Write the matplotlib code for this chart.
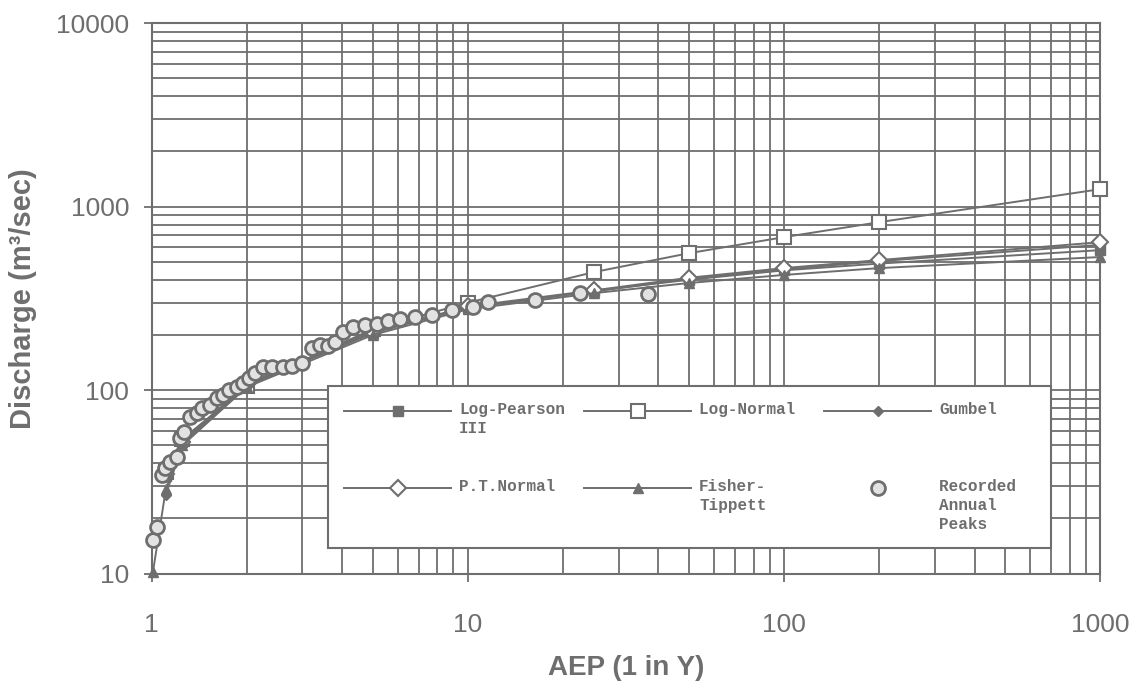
import matplotlib
matplotlib.use('Agg')
import matplotlib.pyplot as plt
import numpy as np
from matplotlib.ticker import FuncFormatter, LogLocator, NullFormatter

GRAY = '#6e6e6e'

# fitted frequency curves (AEP 1 in Y vs discharge m3/s)
aep = [1.11, 1.25, 2, 5, 10, 25, 50, 100, 200, 1000]
log_pearson = [34, 52, 106, 205, 282, 348, 400, 450, 490, 580]
log_normal = [36, 54, 105, 215, 300, 440, 558, 683, 824, 1247]
gumbel = [27, 50, 108, 210, 282, 345, 405, 455, 505, 620]
pt_normal = [35, 52, 108, 207, 286, 350, 410, 463, 512, 641]
fisher_aep = [1.01, 1.11, 1.25, 2, 5, 10, 25, 50, 100, 200, 1000]
fisher_tippett = [10.2, 29, 50, 104, 200, 276, 338, 384, 425, 463, 532]

# recorded annual peaks
rec_aep = [1.007, 1.04, 1.08, 1.10, 1.14, 1.20, 1.23, 1.27, 1.32, 1.39, 1.44, 1.53,
           1.61, 1.68, 1.76, 1.86, 1.94, 2.04, 2.13, 2.25, 2.41, 2.60, 2.79, 3.0,
           3.21, 3.40, 3.61, 3.79, 4.02, 4.32, 4.72, 5.15, 5.58, 6.09, 6.8, 7.7,
           8.9, 10.4, 11.6, 16.3, 22.6, 37.1]
rec_q = [15.3, 18.0, 34.6, 37.8, 40.7, 43.4, 55, 59.3, 71.6, 75.2, 80.2, 83.2,
         90.8, 94.3, 100.4, 104, 109.6, 116.6, 124, 134, 134, 134, 135.6, 141,
         170, 176, 174, 183, 208, 221, 227, 229, 238, 244, 251, 257,
         274, 284, 302, 310, 338, 334]

narrow = ['Liberation Sans Narrow', 'Liberation Sans', 'DejaVu Sans']
mono = ['Liberation Mono', 'DejaVu Sans Mono']

fig = plt.figure(figsize=(11.31, 6.83), dpi=100)
ax = fig.add_axes([0.134, 0.160, 0.839, 0.806])

lw = 1.4
l_lp, = ax.plot(aep, log_pearson, color=GRAY, lw=lw, marker='s', ms=7, zorder=4, clip_on=False)
l_ln, = ax.plot(aep, log_normal, color=GRAY, lw=lw, marker='s', ms=10,
                mfc='white', mec=GRAY, mew=1.5, zorder=4, clip_on=False)
l_gu, = ax.plot(aep, gumbel, color=GRAY, lw=lw, marker='D', ms=5, zorder=4, clip_on=False)
l_pt, = ax.plot(aep, pt_normal, color=GRAY, lw=lw, marker='D', ms=8,
                mfc='white', mec=GRAY, mew=1.5, zorder=4, clip_on=False)
l_ft, = ax.plot(fisher_aep, fisher_tippett, color=GRAY, lw=lw, marker='^', ms=7,
                zorder=4, clip_on=False)
l_rec, = ax.plot(rec_aep, rec_q, ls='none', marker='o', ms=10, mfc='#e2e2e2',
                 mec=GRAY, mew=2, zorder=5, clip_on=False)

ax.set_xscale('log')
ax.set_yscale('log')
ax.set_xlim(1, 1000)
ax.set_ylim(10, 10000)

ax.xaxis.set_major_locator(LogLocator(base=10))
ax.yaxis.set_major_locator(LogLocator(base=10))
ax.xaxis.set_minor_locator(LogLocator(base=10, subs=range(2, 10)))
ax.yaxis.set_minor_locator(LogLocator(base=10, subs=range(2, 10)))
fmt = FuncFormatter(lambda v, p: f'{v:g}')
ax.xaxis.set_major_formatter(fmt)
ax.yaxis.set_major_formatter(fmt)
ax.xaxis.set_minor_formatter(NullFormatter())
ax.yaxis.set_minor_formatter(NullFormatter())

ax.grid(which='both', color=GRAY, lw=1.3)
ax.set_axisbelow(True)
for s in ax.spines.values():
    s.set_color(GRAY)
    s.set_linewidth(1.5)

ax.tick_params(which='major', length=6, color=GRAY, width=1.3, labelcolor=GRAY)
ax.tick_params(which='minor', length=0)
ax.tick_params(axis='x', pad=22)
ax.tick_params(axis='y', pad=10)
for t in ax.get_xticklabels() + ax.get_yticklabels():
    t.set_fontfamily(narrow)
    t.set_fontsize(19)

ax.set_xlabel('AEP (1 in Y)', fontsize=20, fontweight='bold', color=GRAY,
              family=narrow, labelpad=13)
ax.set_ylabel('Discharge (m³/sec)', fontsize=21, fontweight='bold', color=GRAY,
              family=narrow, labelpad=14)

# legend, row by row: Log-Pearson III / Log-Normal / Gumbel, then
# P.T.Normal / Fisher-Tippett / Recorded Annual Peaks (column-major order here)
handles = [l_lp, l_pt, l_ln, l_ft, l_gu, l_rec]
labels = ['Log-Pearson\nIII',
          'P.T.Normal\n\n',
          'Log-Normal \n',
          'Fisher-\nTippett\n',
          'Gumbel\n',
          'Recorded  \nAnnual\nPeaks']
leg = ax.legend(handles, labels, ncol=3, loc='upper left',
                bbox_to_anchor=(0.186, 0.341), borderaxespad=0, frameon=True,
                fancybox=False, framealpha=1, edgecolor=GRAY, handlelength=6.7,
                handletextpad=0.5, columnspacing=1.2, labelspacing=2.7,
                borderpad=1.0, prop={'family': mono, 'weight': 'bold', 'size': 11.5})
leg.get_frame().set_linewidth(1.5)
for t in leg.get_texts():
    t.set_color(GRAY)
    t.set_linespacing(1.32)

# move each legend marker up to the first line of its label
fig.canvas.draw()
for h, t in zip(leg.legend_handles, leg.get_texts()):
    n = t.get_text().count('\n') + 1
    line_pt = t.get_window_extent().height / n * 72 / fig.dpi
    h.set_ydata(np.asarray(h.get_ydata(), float) + (n - 1) / 2 * line_pt)

fig.savefig('out.png', dpi=100, facecolor='white')
